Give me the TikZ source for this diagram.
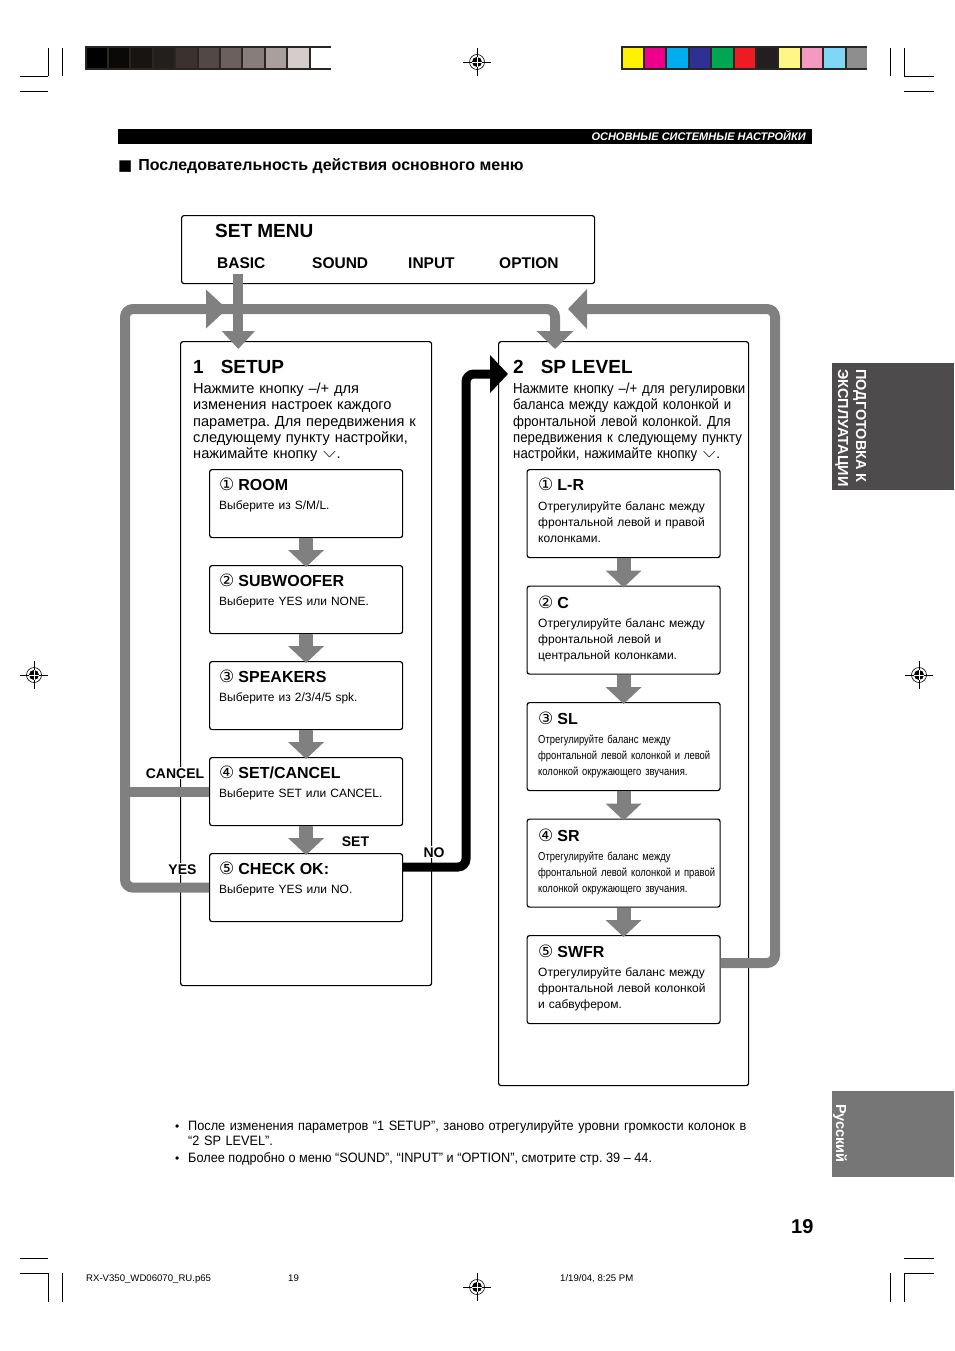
\documentclass[tikz,border=0pt]{standalone}
\usepackage{graphicx}
\usepackage{fontspec}
\setmainfont{Liberation Sans}
\newfontfamily\symfont{DejaVu Sans}
\newfontfamily\narrowfont[FakeStretch=0.82]{Liberation Sans}
\newfontfamily\bodynarrow[FakeStretch=0.905]{Liberation Sans}
\newfontfamily\notefont[FakeStretch=0.935]{Liberation Sans}
\usetikzlibrary{
  calc,
  positioning,
  arrows.meta
}
\definecolor{flowgray}{RGB}{128,128,128}
\definecolor{tabdark}{RGB}{77,75,76}
\definecolor{tabgray}{RGB}{119,118,119}
\definecolor{barframe}{RGB}{42,38,36}
\newcommand{\downkey}{\raisebox{1.5pt}{\scalebox{1.5}[0.7]{$\vee$}}}
\newcommand{\circnum}[1]{{\symfont\mdseries\fontsize{17}{19}\selectfont #1}\hspace{4pt}}

\begin{document}
\frenchspacing
\begin{tikzpicture}[x=1pt,y=-1pt,
  box/.style={draw,line width=1.2pt,rounded corners=2.5pt,anchor=north west,inner sep=0pt},
  head/.style={anchor=base west,inner sep=0pt,font=\bfseries\fontsize{19}{22}\selectfont},
  menuitem/.style={anchor=base west,inner sep=0pt,font=\bfseries\fontsize{15.5}{18}\selectfont},
  body/.style={anchor=base west,inner sep=0pt,text width=300pt,align=left,font=\fontsize{14.6}{16.25}\selectfont},
  bodyslim/.style={body,font=\bodynarrow\fontsize{14.6}{16.25}\selectfont},
  subhead/.style={anchor=base west,inner sep=0pt,font=\bfseries\fontsize{16}{19}\selectfont},
  subtext/.style={anchor=base west,inner sep=0pt,text width=185pt,align=left,font=\fontsize{12}{16}\selectfont},
  subnarrow/.style={subtext,font=\narrowfont\fontsize{11.5}{16}\selectfont},
  flowlabel/.style={anchor=base,fill=white,inner sep=1pt,font=\bfseries\fontsize{14}{16}\selectfont},
  flow/.style={draw=flowgray,line width=10pt,rounded corners=8pt},
  stepflow/.style={draw=flowgray,line width=14pt,-{Triangle[width=35pt,length=17pt]},shorten >=-2pt},
  noflow/.style={draw=black,line width=9pt,rounded corners=8pt,-{Triangle[width=37pt,length=18pt]},shorten >=-10pt},
  cropline/.style={line width=0.7pt},
  tabtext/.style={anchor=base west,rotate=-90,inner sep=0pt,white,font=\bfseries\fontsize{14.5}{16}\selectfont},
  smalltext/.style={anchor=base west,inner sep=0pt,font=\fontsize{9.6}{12}\selectfont}
]
  \useasboundingbox (0,0) rectangle (954,1351);

  % crop marks
  \draw[cropline] (20,76) -- (48,76) (48,48) -- (48,76) (62,48) -- (62,76) (20,91) -- (48,91);
  \draw[cropline] (934,76) -- (904,76) (904,48) -- (904,76) (890,48) -- (890,76) (934,91) -- (904,91);
  \draw[cropline] (20,1258) -- (48,1258) (20,1273) -- (48,1273) (48,1273) -- (48,1302) (62,1273) -- (62,1302);
  \draw[cropline] (934,1258) -- (904,1258) (934,1273) -- (904,1273) (904,1273) -- (904,1302) (890,1273) -- (890,1302);
  \foreach \x/\y in {477/62,34/675,919/675,477/1287} {
    \draw[line width=0.5pt] (\x-14,\y) -- (\x+14,\y) (\x,\y-14) -- (\x,\y+14);
    \draw[line width=0.6pt] (\x,\y) circle (7.5pt);
    \fill (\x,\y) circle (5pt);
    \draw[white,line width=0.8pt] (\x-5,\y) -- (\x+5,\y) (\x,\y-5) -- (\x,\y+5);
  }

  % colour bars
  \fill[barframe] (85,46.5) rectangle (331,70.5);
  \foreach \c [count=\i from 0] in {000000,0B0908,181412,231F1C,3B312E,524845,6B605D,877D7A,A9A09D,D5CDCB,FFFFFF} {
    \definecolor{cell}{HTML}{\c}
    \fill[cell] (86.5+22.4*\i,48.5) rectangle (107+22.4*\i,68.5);
  }
  \fill[barframe] (621,46.5) rectangle (867,70.5);
  \foreach \c [count=\i from 0] in {FFF200,EC008C,00AEEF,2E3192,00A651,ED1C24,231F20,FFF685,F49AC1,7FD6F7,8E8E8E} {
    \definecolor{cell}{HTML}{\c}
    \fill[cell] (622.5+22.4*\i,48.5) rectangle (643+22.4*\i,68.5);
  }

  % page header
  \fill (118,129) rectangle (812,144);
  \node[anchor=base east,inner sep=0pt,white,font=\bfseries\itshape\fontsize{11}{13}\selectfont]
  (chaptertitle) at (806,140.5) {ОСНОВНЫЕ СИСТЕМНЫЕ НАСТРОЙКИ};
  \node[anchor=base west,inner sep=0pt,font=\bfseries\fontsize{16}{18}\selectfont]
  (sectiontitle) at (118,171) {{\symfont\fontsize{15}{18}\selectfont■}\hspace{6pt}Последовательность действия основного меню};

  % menu box
  \node[box,minimum width=413pt,minimum height=68pt] (setmenu) at (181,215) {};
  \node[head] (menutitle) at (215,237.5) {SET MENU};
  \node[menuitem] (basic) at (217,268.5) {BASIC};
  \node[menuitem] (sound) at (312,268.5) {SOUND};
  \node[menuitem] (input) at (408,268.5) {INPUT};
  \node[menuitem] (option) at (499,268.5) {OPTION};

  % 1 SETUP
  \node[box,minimum width=251pt,minimum height=644pt] (setup) at (180,341) {};
  \node[head] (setuphead) at (193,373) {1\hspace{17pt}SETUP};
  \node[body] (setupbody) at (193,393.5)
  {Нажмите кнопку –/+ для\\изменения настроек каждого\\параметра. Для передвижения к\\следующему пункту настройки,\\нажимайте кнопку \downkey.};

  \foreach \n/\t in {room/469,subwoofer/565,speakers/661,setcancel/757,checkok/853}
    \node[box,minimum width=193pt,minimum height=68pt] (\n) at (209,\t) {};
  \node[subhead] (roomhead) at ($(room.north west)+(10,21)$) {\circnum{①}ROOM};
  \node[subtext] (roomtext) at ($(room.north west)+(10,40.5)$) {Выберите из S/M/L.};
  \node[subhead] (subwooferhead) at ($(subwoofer.north west)+(10,21)$) {\circnum{②}SUBWOOFER};
  \node[subtext] (subwoofertext) at ($(subwoofer.north west)+(10,40.5)$) {Выберите YES или NONE.};
  \node[subhead] (speakershead) at ($(speakers.north west)+(10,21)$) {\circnum{③}SPEAKERS};
  \node[subtext] (speakerstext) at ($(speakers.north west)+(10,40.5)$) {Выберите из 2/3/4/5 spk.};
  \node[subhead] (setcancelhead) at ($(setcancel.north west)+(10,21)$) {\circnum{④}SET/CANCEL};
  \node[subtext] (setcanceltext) at ($(setcancel.north west)+(10,40.5)$) {Выберите SET или CANCEL.};
  \node[subhead] (checkokhead) at ($(checkok.north west)+(10,21)$) {\circnum{⑤}CHECK OK:};
  \node[subtext] (checkoktext) at ($(checkok.north west)+(10,40.5)$) {Выберите YES или NO.};

  % 2 SP LEVEL
  \node[box,minimum width=250pt,minimum height=744pt] (splevel) at (498,341) {};
  \node[head] (splevelhead) at (513,373) {2\hspace{17pt}SP LEVEL};
  \node[bodyslim] (splevelbody) at (513,393.5)
  {Нажмите кнопку –/+ для регулировки\\баланса между каждой колонкой и\\фронтальной левой колонкой. Для\\передвижения к следующему пункту\\настройки, нажимайте кнопку \downkey.};

  \foreach \n/\t in {lr/469,cbox/585.5,sl/702,sr/818.5,swfr/935}
    \node[box,minimum width=193pt,minimum height=88pt] (\n) at (526.5,\t) {};
  \node[subhead] (lrhead) at ($(lr.north west)+(11.5,21.5)$) {\circnum{①}L-R};
  \node[subtext] (lrtext) at ($(lr.north west)+(11.5,41)$)
  {Отрегулируйте баланс между\\фронтальной левой и правой\\колонками.};
  \node[subhead] (chead) at ($(cbox.north west)+(11.5,22.5)$) {\circnum{②}C};
  \node[subtext] (ctext) at ($(cbox.north west)+(11.5,41.5)$)
  {Отрегулируйте баланс между\\фронтальной левой и\\центральной колонками.};
  \node[subhead] (slhead) at ($(sl.north west)+(11.5,22.5)$) {\circnum{③}SL};
  \node[subnarrow] (sltext) at ($(sl.north west)+(11.5,41.5)$)
  {Отрегулируйте баланс между\\фронтальной левой колонкой и левой\\колонкой окружающего звучания.};
  \node[subhead] (srhead) at ($(sr.north west)+(11.5,22.5)$) {\circnum{④}SR};
  \node[subnarrow] (srtext) at ($(sr.north west)+(11.5,41.5)$)
  {Отрегулируйте баланс между\\фронтальной левой колонкой и правой\\колонкой окружающего звучания.};
  \node[subhead] (swfrhead) at ($(swfr.north west)+(11.5,22.5)$) {\circnum{⑤}SWFR};
  \node[subtext] (swfrtext) at ($(swfr.north west)+(11.5,41.5)$)
  {Отрегулируйте баланс между\\фронтальной левой колонкой\\и сабвуфером.};

  % step arrows
  \foreach \a/\b in {room/subwoofer,subwoofer/speakers,speakers/setcancel,setcancel/checkok,lr/cbox,cbox/sl,sl/sr,sr/swfr}
    \draw[stepflow] (\a.south) -- (\b.north);

  % loops
  \coordinate (loopleft) at (125,309);
  \coordinate (loopright) at (775,309);
  \coordinate (rightback) at (568,309);
  \coordinate (nopost) at (466,374);
  \draw[flow,-{Triangle[width=32pt,length=18pt]},shorten <=5pt,shorten >=-8pt]
  ([xshift=-3pt]basic.south) -- ([xshift=-3pt]basic.south |- setup.north);
  \draw[flow,-{Triangle[width=36pt,length=18pt]},shorten >=-8pt]
  (checkok.west) -| (loopleft) -| ($(splevel.north west)+(57,0)$);
  \draw[flow] (setcancel.west) -- (setcancel.west -| loopleft);
  \fill[flowgray] (206,289.5) -- (227,309) -- (206,328.5) -- cycle;
  \draw[flow,-{Triangle[width=39pt,length=19pt]}]
  ($(swfr.north east)+(0,28)$) -| (loopright) -- (rightback);
  \draw[noflow] ($(checkok.north east)+(0,14)$) -| (nopost) -- (nopost -| splevel.west);

  \node[flowlabel] (cancellabel) at (175,778) {CANCEL};
  \node[flowlabel] (yeslabel) at (182.5,874) {YES};
  \node[flowlabel] (setlabel) at (355.5,846) {SET};
  \node[flowlabel] (nolabel) at (434,857) {NO};

  % side tabs
  \fill[tabdark] (832,363) rectangle (954,490);
  \node[tabtext] (tabupper) at (856,369) {ПОДГОТОВКА К};
  \node[tabtext] (tablower) at (838,369) {ЭКСПЛУАТАЦИИ};
  \fill[tabgray] (832,1091) rectangle (954,1177);
  \node[tabtext] (tablang) at (836,1104) {Русский};

  % notes
  \node[anchor=base west,inner sep=0pt,font=\fontsize{12}{15}\selectfont] (bulletone) at (175,1130) {•};
  \node[anchor=base west,inner sep=0pt,text width=640pt,align=left,font=\notefont\fontsize{13.6}{15.5}\selectfont]
  (noteone) at (188,1130) {После изменения параметров “1 SETUP”, заново отрегулируйте уровни громкости колонок в\\“2 SP LEVEL”.};
  \node[anchor=base west,inner sep=0pt,font=\fontsize{12}{15}\selectfont] (bullettwo) at (175,1162) {•};
  \node[anchor=base west,inner sep=0pt,font=\notefont\fontsize{13.6}{15.5}\selectfont]
  (notetwo) at (188,1162) {Более подробно о меню “SOUND”, “INPUT” и “OPTION”, смотрите стр. 39 – 44.};

  % page number and slug
  \node[anchor=base west,inner sep=0pt,font=\bfseries\fontsize{20}{24}\selectfont] (pagenum) at (791,1233) {19};
  \node[smalltext] (slugfile) at (86,1281) {RX-V350\_WD06070\_RU.p65};
  \node[smalltext] (slugpage) at (288,1281) {19};
  \node[smalltext] (slugdate) at (560,1281) {1/19/04, 8:25 PM};
\end{tikzpicture}
\end{document}
